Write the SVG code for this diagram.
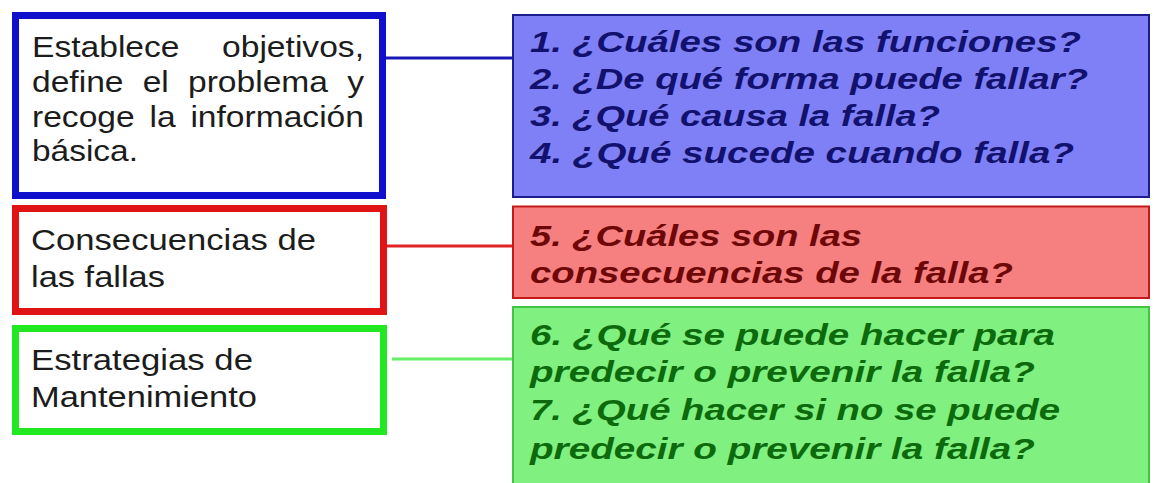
<svg xmlns="http://www.w3.org/2000/svg" width="1154" height="483" viewBox="0 0 1154 483">
<style>
.lt{font-family:"Liberation Sans",Arial,sans-serif;font-size:30px;fill:#1c1c1c}
.rt{font-family:"Liberation Sans",Arial,sans-serif;font-size:29px;font-weight:bold;font-style:italic}
.lbox{fill:#ffffff;stroke-width:7}
.rbox{stroke-width:2}
.conn{stroke-width:3;fill:none}
</style>
<rect width="1154" height="483" fill="#ffffff"/>
<g id="connectors">
<line class="conn" x1="386" y1="58" x2="513" y2="58" stroke="#1818b4"/>
<line class="conn" x1="387" y1="246" x2="513" y2="246" stroke="#e02424"/>
<line class="conn" x1="392" y1="359" x2="513" y2="359" stroke="#66ee66"/>
</g>
<g id="left-objetivos">
<rect class="lbox" x="15.5" y="15.5" width="367" height="180" stroke="#1010cc"/>
<text class="lt" x="32" y="57" textLength="147.5" lengthAdjust="spacingAndGlyphs">Establece</text>
<text class="lt" x="222" y="57" textLength="142" lengthAdjust="spacingAndGlyphs">objetivos,</text>
<text class="lt" x="32" y="92" textLength="91.5" lengthAdjust="spacingAndGlyphs">define</text>
<text class="lt" x="142.7" y="92" textLength="26.1" lengthAdjust="spacingAndGlyphs">el</text>
<text class="lt" x="188" y="92" textLength="140" lengthAdjust="spacingAndGlyphs">problema</text>
<text class="lt" x="347.2" y="92" textLength="16.8" lengthAdjust="spacingAndGlyphs">y</text>
<text class="lt" x="32" y="127" textLength="102.7" lengthAdjust="spacingAndGlyphs">recoge</text>
<text class="lt" x="149.5" y="127" textLength="26.1" lengthAdjust="spacingAndGlyphs">la</text>
<text class="lt" x="190.4" y="127" textLength="173.6" lengthAdjust="spacingAndGlyphs">información</text>
<text class="lt" x="32" y="161" textLength="106" lengthAdjust="spacingAndGlyphs">básica.</text>
</g>
<g id="left-consecuencias">
<rect class="lbox" x="15.5" y="208.5" width="368" height="103" stroke="#e01414"/>
<text class="lt" x="31" y="250" textLength="285" lengthAdjust="spacingAndGlyphs">Consecuencias de</text>
<text class="lt" x="31" y="287" textLength="134" lengthAdjust="spacingAndGlyphs">las fallas</text>
</g>
<g id="left-estrategias">
<rect class="lbox" x="15.5" y="328.5" width="368" height="103" stroke="#22e822"/>
<text class="lt" x="31" y="370" textLength="222" lengthAdjust="spacingAndGlyphs">Estrategias de</text>
<text class="lt" x="31" y="407" textLength="226" lengthAdjust="spacingAndGlyphs">Mantenimiento</text>
</g>
<g id="right-preguntas-1-4">
<rect class="rbox" x="513" y="15" width="636" height="182" fill="#8080f6" stroke="#1c1c8c"/>
<text class="rt" fill="#12126e" x="530" y="52" textLength="551" lengthAdjust="spacingAndGlyphs">1. ¿Cuáles son las funciones?</text>
<text class="rt" fill="#12126e" x="530" y="89" textLength="558" lengthAdjust="spacingAndGlyphs">2. ¿De qué forma puede fallar?</text>
<text class="rt" fill="#12126e" x="530" y="126" textLength="410" lengthAdjust="spacingAndGlyphs">3. ¿Qué causa la falla?</text>
<text class="rt" fill="#12126e" x="530" y="163" textLength="544" lengthAdjust="spacingAndGlyphs">4. ¿Qué sucede cuando falla?</text>
</g>
<g id="right-pregunta-5">
<rect class="rbox" x="513" y="206.5" width="636" height="91.5" fill="#f68080" stroke="#c41a1a"/>
<text class="rt" fill="#6e0808" x="530" y="246" textLength="332" lengthAdjust="spacingAndGlyphs">5. ¿Cuáles son las</text>
<text class="rt" fill="#6e0808" x="530" y="283" textLength="483" lengthAdjust="spacingAndGlyphs">consecuencias de la falla?</text>
</g>
<g id="right-preguntas-6-7">
<rect class="rbox" x="513" y="307" width="636" height="180" fill="#80f080" stroke="#44c444"/>
<text class="rt" fill="#0c6a0c" x="530" y="345" textLength="525" lengthAdjust="spacingAndGlyphs">6. ¿Qué se puede hacer para</text>
<text class="rt" fill="#0c6a0c" x="530" y="382" textLength="505" lengthAdjust="spacingAndGlyphs">predecir o prevenir la falla?</text>
<text class="rt" fill="#0c6a0c" x="530" y="420" textLength="530" lengthAdjust="spacingAndGlyphs">7. ¿Qué hacer si no se puede</text>
<text class="rt" fill="#0c6a0c" x="530" y="459" textLength="505" lengthAdjust="spacingAndGlyphs">predecir o prevenir la falla?</text>
</g>
</svg>
